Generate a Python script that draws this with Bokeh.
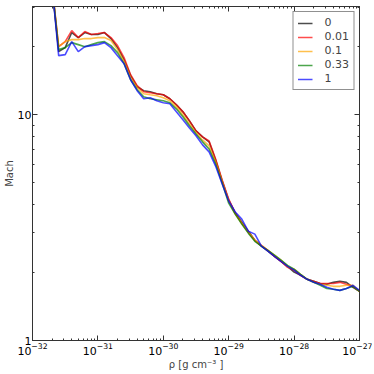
from bokeh.plotting import figure
from bokeh.models import FixedTicker, LogAxis, LogTickFormatter, PrintfTickFormatter
from bokeh.embed import file_html
from bokeh.resources import INLINE

# log10 of density [g cm^-3]
log_rho = [-31.7, -31.6, -31.5, -31.4, -31.3, -31.2, -31.1, -31.0, -30.9, -30.8,
           -30.7, -30.6, -30.5, -30.4, -30.3, -30.2, -30.1, -30.0, -29.9, -29.8,
           -29.7, -29.6, -29.5, -29.4, -29.3, -29.2, -29.1, -29.0, -28.9, -28.8,
           -28.7, -28.6, -28.5, -28.4, -28.3, -28.2, -28.1, -28.0, -27.9, -27.8,
           -27.7, -27.6, -27.5, -27.4, -27.3, -27.2, -27.1, -27.0]

mach_0 = [37, 19.05, 19.85, 23.15, 21.99, 23.15, 22.68, 22.68, 23.15, 21.77,
          19.85, 17.55, 14.91, 13.32, 12.79, 12.66, 12.40, 12.27, 11.78, 11.08,
          10.31, 9.40, 8.49, 7.99, 7.59, 6.31, 5.09, 4.19, 3.67, 3.34,
          3.05, 2.78, 2.62, 2.49, 2.36, 2.24, 2.13, 2.01, 1.945, 1.867,
          1.829, 1.79, 1.774, 1.81, 1.829, 1.81, 1.72, 1.651]
mach_001 = [37, 20.05, 21.11, 23.62, 21.99, 23.38, 22.68, 22.91, 23.15, 21.99,
            20.26, 17.92, 15.06, 13.46, 12.66, 12.53, 12.40, 12.27, 11.78, 11.08,
            10.31, 9.40, 8.49, 7.99, 7.66, 6.37, 5.14, 4.23, 3.67, 3.31,
            3.02, 2.78, 2.64, 2.51, 2.36, 2.24, 2.11, 2.05, 1.945, 1.867,
            1.829, 1.79, 1.79, 1.79, 1.81, 1.774, 1.738, 1.651]
mach_01 = [37, 20.05, 21.11, 21.54, 21.54, 21.77, 21.77, 21.99, 21.99, 21.33,
           19.45, 17.20, 14.60, 13.18, 12.40, 12.27, 12.15, 11.90, 11.54, 10.85,
           10.0, 9.12, 8.32, 7.74, 7.28, 6.18, 5.04, 4.15, 3.63, 3.31,
           3.02, 2.78, 2.64, 2.51, 2.39, 2.27, 2.13, 2.07, 1.965, 1.867,
           1.81, 1.774, 1.756, 1.738, 1.738, 1.756, 1.756, 1.651]
mach_033 = [37, 19.45, 19.85, 20.89, 20.47, 20.05, 20.47, 20.89, 21.11, 20.26,
            18.86, 16.85, 14.30, 12.92, 12.02, 11.78, 11.66, 11.54, 11.31, 10.63,
            9.80, 8.94, 8.23, 7.59, 7.06, 6.06, 4.99, 4.06, 3.63, 3.28,
            2.99, 2.75, 2.62, 2.51, 2.39, 2.27, 2.15, 2.07, 1.965, 1.867,
            1.81, 1.756, 1.70, 1.686, 1.668, 1.70, 1.738, 1.651]
mach_1 = [37, 18.29, 18.48, 21.11, 19.05, 20.05, 20.26, 20.47, 20.89, 19.85,
          18.29, 16.85, 14.30, 12.79, 11.78, 11.90, 11.54, 11.31, 11.19, 10.31,
          9.50, 8.75, 8.07, 7.36, 6.85, 5.93, 4.94, 4.15, 3.71, 3.45,
          3.05, 2.96, 2.62, 2.49, 2.36, 2.24, 2.13, 2.05, 1.945, 1.867,
          1.81, 1.774, 1.72, 1.686, 1.668, 1.70, 1.756, 1.668]

series_labels = ["0", "0.01", "0.1", "0.33", "1"]
series_values = [mach_0, mach_001, mach_01, mach_033, mach_1]
series_colors = ["black", "red", "orange", "green", "blue"]

x_major_ticks = [1e-32, 1e-31, 1e-30, 1e-29, 1e-28, 1e-27]
y_major_ticks = [1, 10]
y_minor_ticks = [2, 3, 4, 5, 6, 7, 8, 9, 20, 30]

rho = [10 ** v for v in log_rho]
x_minor_ticks = [m * t for t in x_major_ticks[:-1] for m in range(2, 10)]

FONT = "DejaVu Sans"
AX = "#333333"

p = figure(width=372, height=372, x_axis_type="log", y_axis_type="log",
           x_range=(1e-32, 1e-27), y_range=(1, 30.2),
           output_backend="svg", toolbar_location=None,
           min_border_left=30, min_border_right=13, min_border_top=6, min_border_bottom=32)
p.xgrid.visible = False
p.ygrid.visible = False
p.outline_line_color = AX
p.background_fill_color = "white"
p.border_fill_color = "white"

for c, vals, lab in zip(series_colors, series_values, series_labels):
    p.line(rho, vals, line_color=c, line_alpha=0.7, line_width=1.6, legend_label=lab)

xt = FixedTicker(ticks=x_major_ticks, minor_ticks=x_minor_ticks)
yt = FixedTicker(ticks=y_major_ticks, minor_ticks=y_minor_ticks)

def style(ax, labels=True):
    ax.axis_line_color = AX
    ax.major_tick_line_color = AX
    ax.minor_tick_line_color = AX
    ax.major_tick_in = 5
    ax.major_tick_out = 0
    ax.minor_tick_in = 2
    ax.minor_tick_out = 0
    ax.major_label_text_font = FONT
    if labels:
        ax.major_label_text_font_size = "11px"
        ax.major_label_text_color = "black"
        ax.major_label_standoff = 2
    else:
        ax.major_label_text_font_size = "1px"
        ax.major_label_text_color = None
        ax.major_label_standoff = 0

xa = p.xaxis[0]
xa.ticker = xt
xa.formatter = LogTickFormatter()
style(xa)
xa.axis_label = "ρ [g cm⁻³ ]"
xa.axis_label_text_font = FONT
xa.axis_label_text_font_size = "10px"
xa.axis_label_text_font_style = "normal"
xa.axis_label_standoff = 1

ya = p.yaxis[0]
ya.ticker = yt
ya.formatter = PrintfTickFormatter(format="%d")
style(ya)
ya.major_label_standoff = 1
ya.axis_label = "Mach"
ya.axis_label_text_font = FONT
ya.axis_label_text_font_size = "10px"
ya.axis_label_text_font_style = "normal"
ya.axis_label_standoff = 0

top = LogAxis(ticker=xt, formatter=LogTickFormatter())
style(top, labels=False)
p.add_layout(top, "above")
right = LogAxis(ticker=yt, formatter=PrintfTickFormatter(format="%d"))
style(right, labels=False)
p.add_layout(right, "right")

lg = p.legend[0]
lg.location = "top_right"
lg.border_line_color = "#222222"
lg.border_line_width = 1
lg.background_fill_alpha = 1
lg.label_text_font = FONT
lg.label_text_font_size = "11px"
lg.glyph_width = 15
lg.glyph_height = 12
lg.label_height = 12
lg.spacing = 1
lg.padding = 4
lg.margin = 5
lg.label_standoff = 12

open("out.html", "w").write(file_html(p, INLINE))
